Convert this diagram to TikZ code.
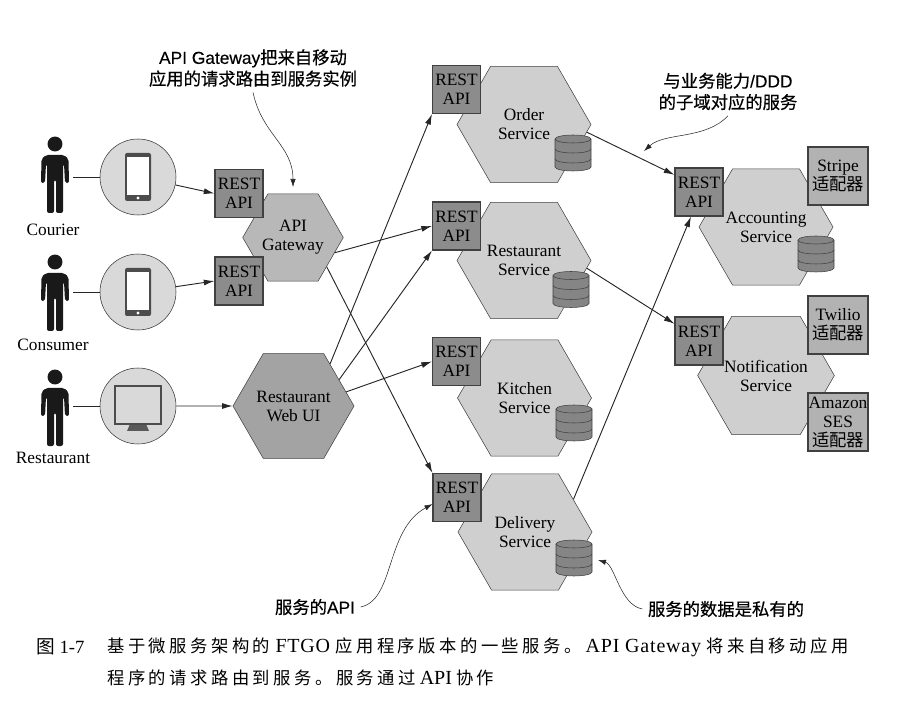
\documentclass[tikz,border=0pt]{standalone}
\usepackage{fontspec}
\setmainfont{Liberation Serif}
\newfontfamily\capserif[LetterSpace=4]{Liberation Serif}
\newfontfamily\sansf[FakeBold=0.3]{Liberation Sans}
\newfontfamily\cjk{Noto Sans CJK SC}
\newfontfamily\cjknote[FakeBold=0.5]{Noto Sans CJK SC}
\newfontfamily\cjkcap[LetterSpace=20]{Noto Sans CJK SC}
\usetikzlibrary{shapes.geometric,arrows.meta}
\tikzset{
  txt/.style={font=\fontsize{13}{14.25}\selectfont,align=center,inner sep=0pt},
  hexsvc/.style={txt,draw=black!75,fill=black!19,regular polygon,regular polygon sides=6,minimum size=100.5pt},
  hexgate/.style={hexsvc,fill=black!28,minimum size=75pt},
  hexui/.style={hexsvc,fill=black!36,minimum size=86.5pt},
  restbox/.style={txt,draw=black!75,fill=black!45,line width=0.8pt,minimum size=36pt},
  adapter/.style={txt,draw=black!75,fill=black!30,line width=0.8pt,minimum width=45pt,minimum height=43.5pt},
  device/.style={draw=black!80,fill=black!15,circle,minimum size=57pt,inner sep=0pt},
  arr/.style={-{Latex[length=8pt,width=4.5pt]},black!85,line width=0.7pt},
  notearr/.style={-{Latex[length=6pt,width=4pt]},black!85,line width=0.4pt},
  note/.style={font=\fontsize{13}{16}\selectfont\sansf,align=center,inner sep=4pt},
  person/.pic={
    \fill[black!90] (0,0) circle (5.6pt);
    \fill[black!90,rounded corners=1.5pt] (-9,11) -- (9,11) -- (13.5,15) -- (14,39) -- (10,39) -- (9,20)
      -- (8,20) -- (8,69) -- (1,69) -- (1,36) -- (-1,36) -- (-1,69) -- (-8,69) -- (-8,20) -- (-9,20)
      -- (-10,39) -- (-14,39) -- (-13.5,15) -- cycle;
    \coordinate (hand) at (18,33);
  },
  phone/.pic={
    \fill[black!70,rounded corners=1.5pt] (-13,-24) rectangle (13,24);
    \fill[white] (-11,-20) rectangle (11,18);
    \fill[white] (0,21) circle (1.2pt);
  },
  monitor/.pic={
    \fill[black!65] (-8,18) -- (8,18) -- (11,25) -- (-11,25) -- cycle;
    \draw[black!70,line width=1.2pt,fill=black!15] (-23,-20) rectangle (23,18);
  },
  dbcyl/.pic={
    \draw[black!75,fill=black!48] (-18,-14) -- (-18,14) arc[start angle=180,end angle=360,x radius=13.5pt,y radius=3pt]
      -- (18,-14) arc[start angle=0,end angle=180,x radius=13.5pt,y radius=3pt] -- cycle;
    \draw[black!75] (-18,-14) arc[start angle=180,end angle=360,x radius=13.5pt,y radius=3pt];
    \draw[black!75] (-18,-4) arc[start angle=180,end angle=360,x radius=13.5pt,y radius=3pt];
    \draw[black!75] (-18,6) arc[start angle=180,end angle=360,x radius=13.5pt,y radius=3pt];
  }
}
\begin{document}
\begin{tikzpicture}[x=0.75pt,y=-0.75pt]
\useasboundingbox (0,0) rectangle (913,705);
\pic (pa) at (55,144) {person};
\pic (pb) at (55,262) {person};
\pic (pc) at (55,377) {person};
\node[txt] (courier) at (53,230) {Courier};
\node[txt] (consumer) at (53,345) {Consumer};
\node[txt] (restaurant) at (53,458) {Restaurant};
\node[device] (ca) at (138,177) {};
\node[device] (cb) at (138,292) {};
\node[device] (cc) at (138,406) {};
\pic at (138,177) {phone};
\pic at (138,292) {phone};
\pic at (138,406) {monitor};
\draw[black!85] (ca -| pahand) -- (ca);
\draw[black!85] (cb -| pbhand) -- (cb);
\draw[black!85] (cc -| pchand) -- (cc);

\node[hexgate] (gate) at (293,237.5) {API\\Gateway};
\node[hexui] (webui) at (293.5,406) {Restaurant\\Web UI};
\node[restbox] (gatea) at (239,193.5) {REST\\API};
\node[restbox] (gateb) at (239,281) {REST\\API};

\node[hexsvc] (order) at (524,124.5) {Order\\Service};
\node[hexsvc] (rest) at (524,260.5) {Restaurant\\Service};
\node[hexsvc] (kitchen) at (524.5,398) {Kitchen\\Service};
\node[hexsvc] (delivery) at (525,532) {Delivery\\Service};
\node[hexsvc] (account) at (766,227) {Accounting\\Service};
\node[hexsvc] (notify) at (766,375.5) {Notification\\Service};
\node[restbox] (orderapi) at (456.5,89.5) {REST\\API};
\node[restbox] (restapi) at (456.5,226) {REST\\API};
\node[restbox] (kitchenapi) at (456.5,361.5) {REST\\API};
\node[restbox] (deliveryapi) at (457,497.5) {REST\\API};
\node[restbox] (accountapi) at (699,192) {REST\\API};
\node[restbox] (notifyapi) at (699,341) {REST\\API};
\pic at (573,153) {dbcyl};
\pic at (571,289.5) {dbcyl};
\pic at (574,423) {dbcyl};
\pic at (574,558) {dbcyl};
\pic at (816,254) {dbcyl};
\node[adapter] (stripe) at (838,176) {Stripe\\{\cjk 适配器}};
\node[adapter] (twilio) at (838,325) {Twilio\\{\cjk 适配器}};
\node[adapter] (amazon) at (838,422) {Amazon\\SES\\{\cjk 适配器}};

\draw[arr] (ca.-12) -- (gatea.west);
\draw[arr] (cb.8) -- (gateb.west);
\draw[arr] (cc.east) -- (webui.west);
\draw[arr] (gate.-20) -- (restapi.west);
\draw[arr] (gate.-41) -- (deliveryapi.north west);
\draw[arr] (webui.49) -- (orderapi.south west);
\draw[arr] (webui.30) -- (restapi.south west);
\draw[arr] (webui.15) -- (kitchenapi.west);
\draw[arr] (order.-7) -- (accountapi.145);
\draw[arr] (rest.-7) -- (notifyapi.145);
\draw[arr] (delivery.34) -- (accountapi.-108);

\node[note] (gatenote) at (253,68) {API Gateway{\cjknote 把来自移动}\\{\cjknote 应用的请求路由到服务实例}};
\coordinate (gatetip) at (293,187);
\draw[notearr] (gatenote.south) .. controls (262,135) and (293,145) .. (gatetip);
\node[note] (svcnote) at (728,91.5) {{\cjknote 与业务能力}/DDD\\{\cjknote 的子域对应的服务}};
\coordinate (svctip) at (644,151);
\draw[notearr] (svcnote.south) .. controls (705,140) and (665,132) .. (svctip);
\node[note] (apinote) at (315,607) {{\cjknote 服务的}API};
\draw[notearr] (apinote.east) .. controls (395,600) and (385,530) .. (deliveryapi.195);
\node[note] (datanote) at (726,609) {{\cjknote 服务的数据是私有的}};
\coordinate (datatip) at (598,560);
\draw[notearr] (datanote.west) .. controls (620,605) and (615,565) .. (datatip);

\node[txt,anchor=west] (figno) at (36,647) {\fontsize{14}{16}\selectfont{\cjkcap 图} 1-7};
\node[txt,anchor=west] (capa) at (107,647) {\fontsize{13}{16}\selectfont{\cjkcap 基于微服务架构的}\hspace{4pt}{\fontsize{15}{16}\selectfont\capserif FTGO}\hspace{4pt}{\cjkcap 应用程序版本的一些服务。}\hspace{3pt}{\fontsize{15}{16}\selectfont\capserif API Gateway}\hspace{4pt}{\cjkcap 将来自移动应用}};
\node[txt,anchor=west] (capb) at (107,678) {\fontsize{13}{16}\selectfont{\cjkcap 程序的请求路由到服务。服务通过}\hspace{3pt}{\fontsize{15}{16}\selectfont API}\hspace{3pt}{\cjkcap 协作}};
\end{tikzpicture}
\end{document}
